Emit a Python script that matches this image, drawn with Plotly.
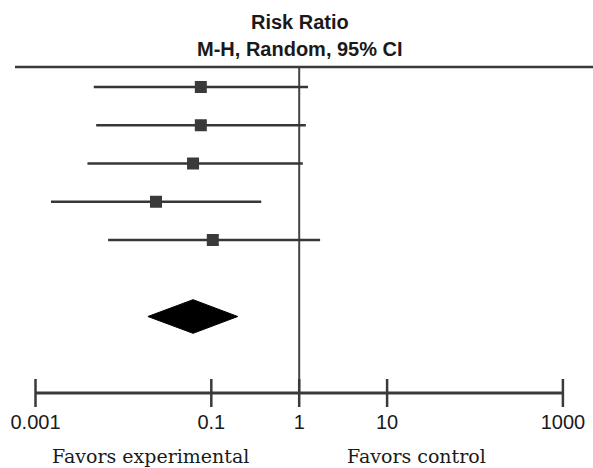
import plotly.graph_objects as go

# ---- data ----
studies = ["Study 1", "Study 2", "Study 3", "Study 4", "Study 5"]
rr = [0.076, 0.076, 0.062, 0.0235, 0.104]
ci_low = [0.0046, 0.0049, 0.0039, 0.0015, 0.0067]
ci_high = [1.26, 1.19, 1.10, 0.37, 1.73]
pooled_rr = 0.062
pooled_low = 0.019
pooled_high = 0.20
tick_vals = [0.001, 0.1, 1, 10, 1000]
tick_text = ["0.001", "0.1", "1", "10", "1000"]

# ---- layout constants ----
W, H = 593, 468
row_pos = [1, 2, 3, 4, 5]
pooled_pos = 7
axis_pos = 9
top_pos = 0.48
diamond_half = 0.44
line_col = "#363636"

fig = go.Figure()

# vertical reference line at RR = 1
fig.add_trace(go.Scatter(x=[1, 1], y=[top_pos, axis_pos], mode="lines",
                         line=dict(color="#444444", width=2), hoverinfo="skip"))

# study CIs
for i in range(len(studies)):
    fig.add_trace(go.Scatter(x=[ci_low[i], ci_high[i]], y=[row_pos[i], row_pos[i]],
                             mode="lines", line=dict(color=line_col, width=2.6),
                             hoverinfo="skip"))
fig.add_trace(go.Scatter(x=rr, y=row_pos, mode="markers",
                         marker=dict(symbol="square", size=12, color="#3a3a3a"),
                         text=studies, hoverinfo="text+x"))

# pooled diamond
fig.add_trace(go.Scatter(
    x=[pooled_low, pooled_rr, pooled_high, pooled_rr, pooled_low],
    y=[pooled_pos, pooled_pos - diamond_half, pooled_pos, pooled_pos + diamond_half, pooled_pos],
    mode="lines", fill="toself", fillcolor="black", line=dict(color="black", width=1),
    hoverinfo="skip"))

# custom axis line with ticks crossing it
fig.add_trace(go.Scatter(x=[tick_vals[0], tick_vals[-1]], y=[axis_pos, axis_pos], mode="lines",
                         line=dict(color="#3a3a3a", width=3), hoverinfo="skip"))
fig.add_trace(go.Scatter(x=tick_vals, y=[axis_pos] * len(tick_vals), mode="markers",
                         marker=dict(symbol="line-ns", size=20,
                                     line=dict(color="#3a3a3a", width=2.5)),
                         hoverinfo="skip", cliponaxis=False))

plot_bottom_px = 408
k_bottom = 1 + (plot_bottom_px - 87) / 38.25
k_top = 1 - 87 / 38.25

title_font = dict(family="Liberation Sans", size=20, color="#1a1a1a", weight="bold")
label_font = dict(family="DejaVu Serif", size=19, color="#1a1a1a")

fig.update_layout(
    width=W, height=H,
    margin=dict(l=0, r=0, t=0, b=H - plot_bottom_px),
    paper_bgcolor="white", plot_bgcolor="white",
    showlegend=False,
    xaxis=dict(type="log", range=[-299.2 / 87.9, (593 - 299.2) / 87.9],
               tickvals=tick_vals, ticktext=tick_text, ticks="",
               showgrid=False, zeroline=False, showline=False,
               tickfont=dict(family="Liberation Sans", size=20, color="#1a1a1a"),
               ticklabelstandoff=0),
    yaxis=dict(range=[k_bottom, k_top], visible=False, showgrid=False),
    shapes=[dict(type="line", xref="paper", yref="y", x0=15 / 593, x1=1,
                 y0=top_pos, y1=top_pos, line=dict(color="#3a3a3a", width=2.5))],
    annotations=[
        dict(text="Risk Ratio", xref="paper", yref="paper", x=300 / 593, y=1 - 22 / plot_bottom_px,
             xanchor="center", yanchor="middle", showarrow=False, font=title_font),
        dict(text="M-H, Random, 95% CI", xref="paper", yref="paper", x=300 / 593, y=1 - 49 / plot_bottom_px,
             xanchor="center", yanchor="middle", showarrow=False, font=title_font),
        dict(text="Favors experimental", xref="paper", yref="paper", x=150 / 593, y=1 - 456 / plot_bottom_px,
             xanchor="center", yanchor="middle", showarrow=False, font=label_font),
        dict(text="Favors control", xref="paper", yref="paper", x=416 / 593, y=1 - 456 / plot_bottom_px,
             xanchor="center", yanchor="middle", showarrow=False, font=label_font),
    ],
)

fig.write_html("out.html", config={"displayModeBar": False},
               post_script="document.body.style.margin='0';")
